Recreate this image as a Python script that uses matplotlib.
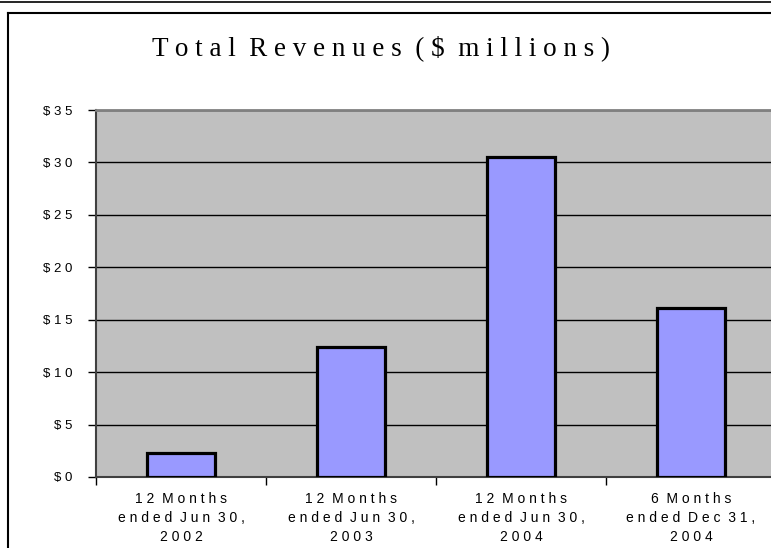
import matplotlib
matplotlib.use("Agg")
import matplotlib.pyplot as plt
from matplotlib.lines import Line2D

# 数据
CATEGORIES = ["12 Months\nended Jun 30,\n2002",
              "12 Months\nended Jun 30,\n2003",
              "12 Months\nended Jun 30,\n2004",
              "6 Months\nended Dec 31,\n2004"]
REVENUES = [2.3, 12.4, 30.5, 16.1]
Y_TICKS = [0, 5, 10, 15, 20, 25, 30, 35]
TITLE = "Total Revenues ($ millions)"


def spaced(s):
    # 模拟原图的字间距：每个字符之间插空格，单词间两个空格
    lines = []
    for line in s.split("\n"):
        words = [" ".join(w) for w in line.split(" ")]
        lines.append("  ".join(words))
    return "\n".join(lines)


fig = plt.figure(figsize=(7.71, 5.48), dpi=100)
fig.patch.set_facecolor("white")

# 页面线和图框
fig.add_artist(Line2D([0, 1], [1 - 2 / 548, 1 - 2 / 548], color="black", lw=1.2))
fig.add_artist(Line2D([8 / 771, 1], [1 - 13 / 548, 1 - 13 / 548], color="black", lw=1.5))
fig.add_artist(Line2D([8 / 771, 8 / 771], [0, 1 - 13 / 548], color="black", lw=1.5))

ax = fig.add_axes([96 / 771, 71 / 548, 680 / 771, 367 / 548])
ax.set_facecolor("#C0C0C0")

x = list(range(len(REVENUES)))
ax.bar(x, REVENUES, width=0.4, color="#9999FF", edgecolor="black", linewidth=2.3, zorder=3)

ax.set_ylim(0, 35)
ax.set_xlim(-0.5, len(REVENUES) - 0.5)
ax.set_yticks(Y_TICKS)
ax.set_yticklabels([spaced("$%d" % v) for v in Y_TICKS], fontsize=9.5,
                   family="Liberation Sans")
ax.yaxis.grid(True, color="black", lw=1.0, zorder=1)
ax.set_axisbelow(True)

# x 轴：分类边界画刻度，标签放在中间
ax.set_xticks([i - 0.5 for i in range(len(REVENUES) + 1)])
ax.set_xticklabels([])
ax.set_xticks(x, minor=True)
ax.set_xticklabels([spaced(c) for c in CATEGORIES], minor=True, fontsize=10,
                   family="Liberation Sans", linespacing=1.45)
ax.tick_params(axis="x", which="minor", length=0, pad=11)
ax.tick_params(axis="x", which="major", length=6, direction="out", width=1)
ax.tick_params(axis="y", length=6, direction="out", width=1, pad=11)

for side in ["top", "right"]:
    ax.spines[side].set_color("#808080")
    ax.spines[side].set_linewidth(2)
ax.spines["left"].set_color("#404040")
ax.spines["left"].set_linewidth(1.5)
ax.spines["bottom"].set_color("#404040")
ax.spines["bottom"].set_linewidth(1.5)

fig.text(381 / 771, 1 - 48 / 548, spaced(TITLE), ha="center", va="center",
         fontsize=19.5, family="Liberation Serif")

fig.savefig("out.png", dpi=100)
